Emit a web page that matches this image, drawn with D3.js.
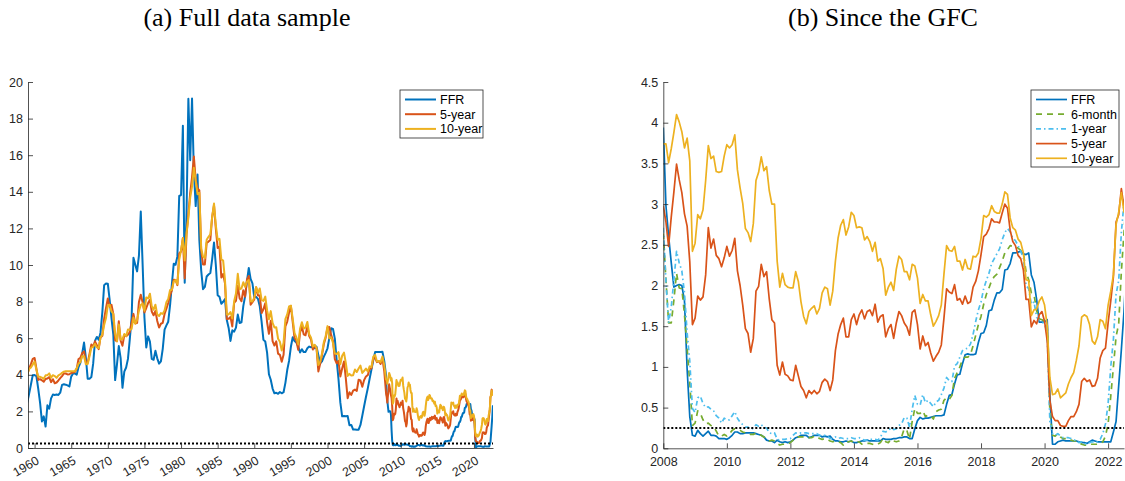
<!DOCTYPE html>
<html>
<head>
<meta charset="utf-8">
<script src="https://cdn.jsdelivr.net/npm/d3@7/dist/d3.min.js"></script>
<style>
  body { margin: 0; background: #fff; }
  svg { display: block; }
  .title { font-family: "Liberation Serif", "Times New Roman", serif; font-size: 26px; fill: #000; }
  .axis path, .axis line { stroke: #262626; stroke-width: 0.8; }
  .axis text { fill: #262626; font-size: 12.5px; font-family: "Liberation Sans", Arial, sans-serif; }
  .legend text { fill: #000; font-size: 12.5px; font-family: "Liberation Sans", Arial, sans-serif; }
</style>
</head>
<body>
<svg id="chart" width="1125" height="481"></svg>
<script>
// Quarterly readings (Jan, Apr, Jul, Oct), 1959 to 2007
const ffrQuarterly = [
    2.48, 2.96, 3.47, 3.98,   3.99, 3.92, 3.23, 2.47,   1.45, 1.73, 1.17, 2.33,
    2.15, 2.71, 2.92, 2.90,   2.92, 2.90, 3.02, 3.45,   3.48, 3.46, 3.42, 3.36,
    3.90, 4.07, 4.07, 4.00,   4.42, 4.65, 5.17, 5.76,   4.94, 3.79, 3.79, 3.88,
    4.61, 5.85, 6.07, 5.92,   6.30, 7.41, 8.90, 8.99,   8.98, 8.09, 7.09, 6.20,
    3.71, 4.57, 5.57, 4.91,   3.29, 4.17, 4.40, 4.87,   5.94, 7.12, 10.40, 10.01,
    9.65, 10.51, 12.92, 10.06, 7.13, 5.49, 6.10, 5.82,  4.87, 4.82, 5.31, 4.90,
    4.61, 4.73, 5.42, 6.47,   6.70, 6.90, 7.81, 8.96,   10.07, 10.01, 10.47, 13.77,
    13.82, 17.61, 9.03, 12.81, 19.08, 15.72, 19.10, 15.08, 13.22, 14.94, 11.35, 9.71,
    8.68, 8.80, 9.37, 9.48,   9.56, 10.32, 11.23, 9.99,  8.35, 8.27, 7.88, 7.99,
    8.14, 6.99, 6.56, 5.85,   6.43, 6.36, 6.58, 7.29,   6.83, 6.87, 7.75, 8.30,
    9.12, 9.84, 9.24, 8.99,   8.23, 8.26, 8.15, 7.74,   6.91, 5.91, 5.82, 5.21,
    4.03, 3.73, 3.25, 2.99,   3.02, 2.96, 3.06, 2.99,   3.05, 3.56, 4.26, 4.76,
    5.53, 6.05, 5.85, 5.76,   5.56, 5.22, 5.40, 5.24,   5.25, 5.45, 5.54, 5.50,
    5.56, 5.45, 5.54, 5.07,   4.63, 4.74, 4.99, 5.20,   5.45, 6.02, 6.54, 6.51,
    5.98, 4.80, 3.77, 2.49,   1.73, 1.75, 1.73, 1.75,   1.24, 1.26, 1.01, 1.01,
    1.00, 1.00, 1.26, 1.76,   2.28, 2.79, 3.26, 3.78,   4.29, 4.79, 5.24, 5.25,
    5.25, 5.25, 5.26, 4.76
];
const fiveYrQuarterly = [
    4.01, 4.35, 4.58, 4.87,   4.92, 4.33, 3.72, 3.76,   3.70, 3.62, 3.77, 3.80,
    3.87, 3.60, 3.76, 3.54,   3.58, 3.69, 3.82, 3.93,   4.07, 4.07, 4.02, 4.03,
    4.10, 4.12, 4.15, 4.34,   4.86, 4.92, 5.18, 5.28,   4.69, 4.65, 5.14, 5.66,
    5.54, 5.83, 5.62, 5.40,   6.04, 6.13, 7.07, 7.64,   8.17, 7.71, 7.83, 7.32,
    5.89, 5.83, 6.92, 5.86,   5.59, 6.17, 6.11, 6.19,   6.34, 6.85, 7.33, 6.81,
    6.83, 7.98, 8.38, 7.97,   7.41, 7.65, 7.92, 8.10,   7.46, 7.25, 7.49, 6.94,
    6.58, 6.79, 6.84, 7.32,   7.61, 7.92, 8.36, 8.61,   9.20, 9.18, 8.90, 10.63,
    10.74, 11.47, 9.27, 11.68, 12.77, 13.94, 14.79, 15.93, 14.65, 14.18, 14.07, 10.80,
    10.03, 10.03, 11.21, 11.28, 11.37, 12.63, 13.27, 11.98, 10.93, 10.99, 9.32, 9.51,
    9.00, 7.05, 7.06, 7.16,   6.64, 7.94, 8.04, 8.86,   8.18, 8.02, 8.62, 8.27,
    9.20, 9.40, 7.83, 7.97,   8.12, 8.79, 8.33, 8.33,   7.38, 7.58, 7.91, 6.87,
    6.24, 6.95, 5.84, 5.60,   5.83, 5.16, 5.09, 4.71,   5.09, 6.64, 6.91, 7.40,
    7.76, 6.88, 6.01, 5.86,   5.36, 6.30, 6.64, 6.21,   6.16, 6.67, 6.12, 5.93,
    5.38, 5.60, 5.46, 4.18,   4.60, 5.08, 5.68, 6.03,   6.58, 6.61, 6.18, 5.84,
    4.86, 4.63, 4.76, 3.91,   4.34, 4.73, 3.81, 2.72,   3.05, 2.90, 3.13, 3.19,
    3.12, 3.73, 3.69, 3.35,   3.71, 3.91, 3.98, 4.33,   4.35, 4.90, 4.91, 4.69,
    4.75, 4.59, 4.88, 4.20
];
const tenYrQuarterly = [
    4.02, 4.32, 4.40, 4.57,   4.72, 4.28, 3.90, 3.89,   3.84, 3.78, 3.97, 3.98,
    4.08, 3.84, 3.98, 3.93,   3.83, 3.97, 4.02, 4.11,   4.17, 4.20, 4.20, 4.19,
    4.19, 4.20, 4.20, 4.35,   4.61, 4.69, 5.02, 5.01,   4.58, 4.59, 5.01, 5.48,
    5.53, 5.69, 5.50, 5.46,   6.04, 6.19, 6.72, 7.10,   7.79, 7.83, 7.46, 7.33,
    6.24, 5.83, 6.75, 5.93,   5.95, 6.23, 6.11, 6.48,   6.46, 6.51, 7.13, 6.79,
    6.99, 7.51, 7.81, 7.90,   7.50, 8.23, 8.17, 8.43,   7.74, 7.56, 7.83, 7.29,
    7.21, 7.37, 7.33, 7.52,   7.96, 8.15, 8.64, 8.64,   9.10, 9.18, 8.95, 10.30,
    10.80, 11.47, 10.25, 11.75, 12.57, 13.68, 14.28, 15.32, 14.59, 13.87, 13.95, 10.91,
    10.46, 10.38, 11.38, 11.54, 11.67, 12.63, 13.36, 12.16, 11.38, 11.43, 10.31, 10.24,
    9.19, 7.30, 7.30, 7.43,   7.08, 8.02, 8.45, 9.52,   8.67, 8.72, 9.06, 8.80,
    9.09, 9.18, 8.02, 8.01,   8.21, 8.79, 8.47, 8.72,   8.09, 8.04, 8.27, 7.53,
    7.03, 7.48, 6.84, 6.59,   6.60, 5.97, 5.81, 5.33,   5.75, 7.04, 7.30, 7.74,
    7.78, 7.06, 6.28, 6.04,   5.65, 6.51, 6.87, 6.53,   6.58, 6.89, 6.22, 6.03,
    5.54, 5.64, 5.46, 4.53,   4.72, 5.18, 5.79, 6.11,   6.66, 5.99, 6.05, 5.74,
    5.16, 5.14, 5.24, 4.57,   5.04, 5.21, 4.65, 3.94,   4.05, 3.96, 3.98, 4.29,
    4.15, 4.34, 4.50, 4.10,   4.22, 4.34, 4.18, 4.46,   4.42, 4.99, 5.09, 4.73,
    4.76, 4.69, 5.00, 4.53
];

// Monthly readings, Jan 2008 to Aug 2022 (one row per year)
const ffrMonthly = [
    3.94, 2.98, 2.61, 2.28, 1.98, 2.00, 2.01, 2.00, 1.81, 0.97, 0.39, 0.16,
    0.15, 0.22, 0.18, 0.15, 0.18, 0.21, 0.16, 0.16, 0.15, 0.12, 0.12, 0.12,
    0.11, 0.13, 0.16, 0.20, 0.20, 0.18, 0.18, 0.19, 0.19, 0.19, 0.19, 0.18,
    0.17, 0.16, 0.14, 0.10, 0.09, 0.09, 0.07, 0.10, 0.08, 0.07, 0.08, 0.07,
    0.08, 0.10, 0.13, 0.14, 0.16, 0.16, 0.16, 0.13, 0.14, 0.16, 0.16, 0.16,
    0.14, 0.15, 0.14, 0.15, 0.11, 0.09, 0.09, 0.08, 0.08, 0.09, 0.08, 0.09,
    0.07, 0.07, 0.08, 0.09, 0.09, 0.10, 0.09, 0.09, 0.09, 0.09, 0.09, 0.12,
    0.11, 0.11, 0.11, 0.12, 0.12, 0.13, 0.13, 0.14, 0.14, 0.12, 0.12, 0.24,
    0.34, 0.38, 0.36, 0.37, 0.37, 0.38, 0.39, 0.40, 0.40, 0.40, 0.41, 0.54,
    0.65, 0.66, 0.79, 0.90, 0.91, 1.04, 1.15, 1.16, 1.15, 1.15, 1.16, 1.30,
    1.41, 1.42, 1.51, 1.69, 1.70, 1.82, 1.91, 1.91, 1.95, 2.19, 2.20, 2.27,
    2.40, 2.40, 2.41, 2.42, 2.39, 2.38, 2.40, 2.13, 2.04, 1.83, 1.55, 1.55,
    1.55, 1.58, 0.65, 0.05, 0.05, 0.08, 0.09, 0.10, 0.09, 0.09, 0.09, 0.09,
    0.09, 0.08, 0.07, 0.07, 0.06, 0.08, 0.10, 0.09, 0.08, 0.08, 0.08, 0.08,
    0.08, 0.08, 0.20, 0.33, 0.77, 1.21, 1.68, 2.33
];
const sixMonthMonthly = [
    2.64, 2.07, 1.54, 1.54, 1.82, 2.15, 1.97, 1.96, 1.64, 1.23, 0.81, 0.28,
    0.31, 0.46, 0.43, 0.35, 0.30, 0.31, 0.28, 0.27, 0.21, 0.15, 0.15, 0.17,
    0.15, 0.18, 0.22, 0.24, 0.23, 0.22, 0.20, 0.19, 0.19, 0.17, 0.17, 0.19,
    0.17, 0.16, 0.14, 0.12, 0.09, 0.10, 0.09, 0.06, 0.04, 0.05, 0.05, 0.05,
    0.07, 0.10, 0.13, 0.14, 0.14, 0.14, 0.14, 0.13, 0.13, 0.15, 0.15, 0.12,
    0.11, 0.12, 0.11, 0.09, 0.08, 0.09, 0.08, 0.07, 0.04, 0.08, 0.08, 0.09,
    0.07, 0.08, 0.08, 0.05, 0.05, 0.06, 0.06, 0.05, 0.04, 0.05, 0.07, 0.12,
    0.08, 0.07, 0.11, 0.09, 0.08, 0.09, 0.14, 0.24, 0.22, 0.11, 0.33, 0.49,
    0.43, 0.43, 0.46, 0.39, 0.41, 0.40, 0.36, 0.45, 0.47, 0.48, 0.59, 0.62,
    0.60, 0.65, 0.86, 0.93, 1.00, 1.09, 1.12, 1.12, 1.15, 1.26, 1.39, 1.52,
    1.62, 1.77, 1.89, 1.97, 2.06, 2.11, 2.14, 2.22, 2.30, 2.40, 2.44, 2.49,
    2.48, 2.47, 2.46, 2.43, 2.40, 2.17, 2.07, 1.91, 1.89, 1.69, 1.59, 1.58,
    1.56, 1.52, 0.45, 0.16, 0.15, 0.18, 0.14, 0.12, 0.12, 0.12, 0.10, 0.09,
    0.09, 0.07, 0.05, 0.04, 0.04, 0.05, 0.05, 0.05, 0.05, 0.06, 0.08, 0.15,
    0.30, 0.64, 1.00, 1.37, 1.53, 2.17, 2.65, 3.10
];
const oneYrMonthly = [
    2.71, 2.05, 1.54, 1.74, 2.06, 2.42, 2.28, 2.18, 1.91, 1.42, 1.07, 0.49,
    0.44, 0.62, 0.64, 0.55, 0.50, 0.51, 0.48, 0.46, 0.40, 0.37, 0.31, 0.37,
    0.35, 0.35, 0.40, 0.45, 0.37, 0.32, 0.29, 0.26, 0.26, 0.23, 0.25, 0.29,
    0.27, 0.29, 0.26, 0.25, 0.19, 0.18, 0.19, 0.11, 0.10, 0.11, 0.11, 0.12,
    0.12, 0.16, 0.19, 0.18, 0.19, 0.19, 0.19, 0.18, 0.18, 0.18, 0.18, 0.16,
    0.15, 0.16, 0.15, 0.12, 0.12, 0.14, 0.12, 0.13, 0.12, 0.12, 0.12, 0.13,
    0.12, 0.12, 0.13, 0.11, 0.10, 0.10, 0.11, 0.11, 0.11, 0.10, 0.13, 0.21,
    0.20, 0.22, 0.25, 0.23, 0.24, 0.28, 0.30, 0.38, 0.37, 0.26, 0.48, 0.65,
    0.54, 0.53, 0.66, 0.56, 0.59, 0.55, 0.51, 0.57, 0.59, 0.66, 0.74, 0.87,
    0.83, 0.82, 1.01, 1.04, 1.12, 1.20, 1.22, 1.23, 1.28, 1.40, 1.56, 1.70,
    1.80, 1.96, 2.06, 2.15, 2.27, 2.33, 2.39, 2.45, 2.56, 2.65, 2.70, 2.66,
    2.58, 2.55, 2.49, 2.42, 2.34, 2.00, 1.96, 1.77, 1.80, 1.61, 1.57, 1.55,
    1.53, 1.41, 0.33, 0.18, 0.16, 0.18, 0.15, 0.13, 0.13, 0.13, 0.12, 0.10,
    0.10, 0.07, 0.08, 0.06, 0.05, 0.07, 0.08, 0.07, 0.08, 0.11, 0.18, 0.30,
    0.55, 1.00, 1.34, 1.89, 2.06, 2.65, 3.02, 3.28
];
const fiveYrMonthly = [
    2.98, 2.78, 2.48, 2.84, 3.15, 3.49, 3.30, 3.14, 2.88, 2.73, 2.29, 1.52,
    1.60, 1.87, 1.82, 1.86, 2.13, 2.71, 2.46, 2.57, 2.37, 2.33, 2.23, 2.34,
    2.48, 2.36, 2.43, 2.58, 2.18, 2.00, 1.76, 1.47, 1.41, 1.18, 1.35, 1.93,
    1.99, 2.26, 2.11, 2.17, 1.84, 1.58, 1.54, 1.02, 0.90, 1.06, 0.91, 0.89,
    0.84, 0.83, 1.02, 0.89, 0.76, 0.71, 0.62, 0.71, 0.67, 0.71, 0.67, 0.70,
    0.81, 0.85, 0.82, 0.71, 0.84, 1.20, 1.40, 1.52, 1.60, 1.37, 1.37, 1.58,
    1.65, 1.52, 1.64, 1.70, 1.59, 1.68, 1.70, 1.63, 1.77, 1.55, 1.62, 1.64,
    1.37, 1.47, 1.52, 1.35, 1.54, 1.68, 1.63, 1.54, 1.49, 1.39, 1.67, 1.70,
    1.52, 1.22, 1.38, 1.26, 1.30, 1.17, 1.07, 1.13, 1.18, 1.27, 1.60, 1.96,
    1.92, 1.90, 2.01, 1.82, 1.84, 1.77, 1.87, 1.78, 1.80, 1.98, 2.05, 2.18,
    2.38, 2.60, 2.63, 2.70, 2.82, 2.78, 2.78, 2.77, 2.89, 3.00, 2.95, 2.68,
    2.54, 2.49, 2.37, 2.33, 2.19, 1.83, 1.83, 1.49, 1.57, 1.53, 1.64, 1.68,
    1.56, 1.32, 0.59, 0.39, 0.34, 0.34, 0.28, 0.27, 0.27, 0.34, 0.39, 0.39,
    0.45, 0.54, 0.82, 0.86, 0.82, 0.84, 0.76, 0.77, 0.86, 1.11, 1.20, 1.23,
    1.54, 1.81, 2.11, 2.78, 2.87, 3.19, 2.96, 3.03
];
const tenYrMonthly = [
    3.74, 3.74, 3.51, 3.68, 3.88, 4.10, 4.01, 3.89, 3.69, 3.81, 3.53, 2.42,
    2.52, 2.87, 2.82, 2.93, 3.29, 3.72, 3.56, 3.59, 3.40, 3.39, 3.40, 3.59,
    3.73, 3.69, 3.73, 3.85, 3.42, 3.20, 3.01, 2.70, 2.65, 2.54, 2.76, 3.29,
    3.39, 3.58, 3.41, 3.46, 3.17, 3.00, 3.00, 2.30, 1.98, 2.15, 2.01, 1.98,
    1.97, 1.97, 2.17, 2.05, 1.80, 1.62, 1.53, 1.68, 1.72, 1.75, 1.65, 1.72,
    1.91, 1.98, 1.96, 1.76, 1.93, 2.30, 2.58, 2.74, 2.81, 2.62, 2.72, 2.90,
    2.86, 2.71, 2.72, 2.71, 2.56, 2.60, 2.54, 2.42, 2.53, 2.30, 2.33, 2.21,
    1.88, 1.98, 2.04, 1.94, 2.20, 2.36, 2.32, 2.17, 2.17, 2.07, 2.26, 2.24,
    2.09, 1.78, 1.89, 1.81, 1.81, 1.64, 1.50, 1.56, 1.63, 1.76, 2.14, 2.49,
    2.43, 2.42, 2.48, 2.30, 2.30, 2.19, 2.32, 2.21, 2.20, 2.36, 2.35, 2.40,
    2.58, 2.86, 2.84, 2.87, 2.98, 2.91, 2.89, 2.89, 3.00, 3.15, 3.12, 2.83,
    2.71, 2.68, 2.57, 2.53, 2.40, 2.07, 2.06, 1.63, 1.70, 1.71, 1.81, 1.86,
    1.76, 1.50, 0.87, 0.66, 0.67, 0.73, 0.62, 0.65, 0.68, 0.79, 0.87, 0.93,
    1.08, 1.26, 1.61, 1.64, 1.62, 1.52, 1.32, 1.28, 1.37, 1.58, 1.56, 1.47,
    1.76, 1.93, 2.13, 2.75, 2.90, 3.14, 2.90, 2.90
];

const leftTicksY = d3.range(0, 21, 2);
const leftTicksX = d3.range(1960, 2021, 5);
const rightTicksY = [0, 0.5, 1, 1.5, 2, 2.5, 3, 3.5, 4, 4.5];
const rightTicksX = d3.range(2008, 2023, 2);
const zeroBound = 0.25;

const colors = {
    ffr: '#0072BD', six: '#77AC30', one: '#4DBEEE', five: '#D95319', ten: '#EDB120'
};

// turn arrays into {t, v} points
const quarterly = (arr) => arr.map((v, i) => ({ t: 1959 + i / 4, v: v }));
const monthly = (arr) => arr.map((v, i) => ({ t: 2008 + i / 12, v: v }));

const svg = d3.select('#chart');

function drawPanel(opts) {
    const x = d3.scaleLinear().domain(opts.xDomain).range(opts.xRange);
    const y = d3.scaleLinear().domain(opts.yDomain).range(opts.yRange);
    const g = svg.append('g');

    g.append('clipPath')
        .attr('id', opts.id + 'Clip')
        .append('rect')
        .attr('x', opts.xRange[0])
        .attr('y', opts.yRange[1] - 2)
        .attr('width', opts.xRange[1] - opts.xRange[0])
        .attr('height', opts.yRange[0] - opts.yRange[1] + 2);

    const line = d3.line()
        .x(d => x(d.t))
        .y(d => y(d.v));

    const plot = g.append('g').attr('clip-path', `url(#${opts.id}Clip)`);

    opts.series.forEach(s => {
        plot.append('path')
            .datum(s.data)
            .attr('fill', 'none')
            .attr('stroke', s.color)
            .attr('stroke-width', opts.lineWidth)
            .attr('stroke-linejoin', 'round')
            .attr('stroke-dasharray', s.dash || null)
            .attr('d', line);
    });

    // zero lower bound reference
    plot.append('line')
        .attr('x1', opts.xRange[0])
        .attr('x2', opts.xRange[1])
        .attr('y1', y(zeroBound))
        .attr('y2', y(zeroBound))
        .attr('stroke', '#000')
        .attr('stroke-width', 2)
        .attr('stroke-dasharray', '2,2');

    // axes, ticks pointing inward like matlab
    g.append('g')
        .attr('class', 'axis')
        .attr('transform', `translate(${opts.xRange[0]},0)`)
        .call(d3.axisLeft(y).tickValues(opts.yTicks).tickFormat(d => String(d))
            .tickSizeInner(-5).tickSizeOuter(0).tickPadding(5));

    const xAxis = g.append('g')
        .attr('class', 'axis')
        .attr('transform', `translate(0,${opts.yRange[0]})`)
        .call(d3.axisBottom(x).tickValues(opts.xTicks).tickFormat(d3.format('d'))
            .tickSizeInner(-5).tickSizeOuter(0).tickPadding(9));

    if (opts.rotate) {
        xAxis.selectAll('text')
            .attr('y', 0)
            .attr('dy', 0)
            .attr('text-anchor', 'end')
            .attr('transform', 'translate(5,15) rotate(-30)');
    }

    // legend
    const lg = g.append('g').attr('class', 'legend');
    lg.append('rect')
        .attr('x', opts.legend.x)
        .attr('y', opts.legend.y)
        .attr('width', opts.legend.w)
        .attr('height', opts.legend.h)
        .attr('fill', '#fff')
        .attr('stroke', '#262626')
        .attr('stroke-width', 0.8);

    opts.series.forEach((s, i) => {
        const ly = opts.legend.y + 9.5 + i * 14.7;
        lg.append('line')
            .attr('x1', opts.legend.x + 5)
            .attr('x2', opts.legend.x + 36)
            .attr('y1', ly)
            .attr('y2', ly)
            .attr('stroke', s.color)
            .attr('stroke-width', opts.lineWidth)
            .attr('stroke-dasharray', s.dash || null);
        lg.append('text')
            .attr('x', opts.legend.x + 40)
            .attr('y', ly)
            .attr('dy', '0.35em')
            .text(s.name);
    });

    svg.append('text')
        .attr('class', 'title')
        .attr('x', opts.titleX)
        .attr('y', 26)
        .attr('text-anchor', 'middle')
        .text(opts.title);
}

// Panel (a): quarterly history joined to the monthly post-2008 readings
drawPanel({
    id: 'full',
    title: '(a) Full data sample',
    titleX: 247,
    xDomain: [1959.1, 2022.6],
    xRange: [28, 493],
    yDomain: [0, 20],
    yRange: [448, 82],
    xTicks: leftTicksX,
    yTicks: leftTicksY,
    rotate: true,
    lineWidth: 2,
    legend: { x: 400, y: 90, w: 83, h: 48 },
    series: [
        { name: 'FFR', color: colors.ffr, data: quarterly(ffrQuarterly).concat(monthly(ffrMonthly)) },
        { name: '5-year', color: colors.five, data: quarterly(fiveYrQuarterly).concat(monthly(fiveYrMonthly)) },
        { name: '10-year', color: colors.ten, data: quarterly(tenYrQuarterly).concat(monthly(tenYrMonthly)) }
    ]
});

// Panel (b): since the GFC
drawPanel({
    id: 'gfc',
    title: '(b) Since the GFC',
    titleX: 883,
    xDomain: [2008, 2022.5],
    xRange: [663.3, 1124],
    yDomain: [0, 4.5],
    yRange: [448.3, 82],
    xTicks: rightTicksX,
    yTicks: rightTicksY,
    rotate: false,
    lineWidth: 1.7,
    legend: { x: 1031, y: 90, w: 88, h: 77 },
    series: [
        { name: 'FFR', color: colors.ffr, data: monthly(ffrMonthly) },
        { name: '6-month', color: colors.six, data: monthly(sixMonthMonthly), dash: '6,5' },
        { name: '1-year', color: colors.one, data: monthly(oneYrMonthly), dash: '5,3,1.5,3' },
        { name: '5-year', color: colors.five, data: monthly(fiveYrMonthly) },
        { name: '10-year', color: colors.ten, data: monthly(tenYrMonthly) }
    ]
});
</script>
</body>
</html>
